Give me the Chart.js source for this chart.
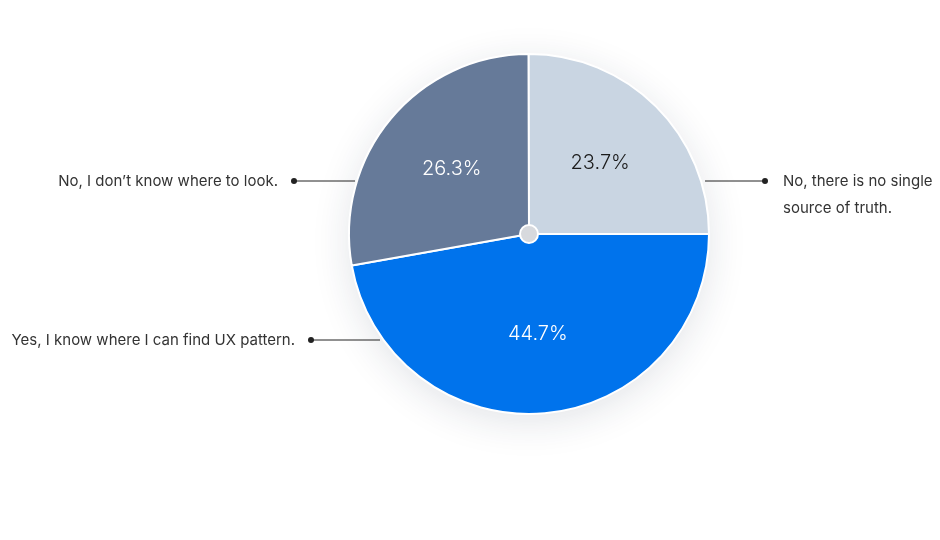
<!DOCTYPE html>
<html>
<head>
<meta charset="utf-8">
<script src="https://cdn.jsdelivr.net/npm/chart.js@4"></script>
<style>
  html, body { margin: 0; padding: 0; background: #fff; }
  #wrap { width: 940px; height: 540px; }
</style>
</head>
<body>
<div id="wrap"><canvas id="pie"></canvas></div>
<script>
const categories = ['Yes, I know where I can find UX pattern.', 'No, I don\u2019t know where to look.', 'No, there is no single source of truth.'];
const values = [44.7, 26.3, 23.7];
const colors = ['#0073EC', '#667A99', '#C9D5E2'];
const valueColors = ['#ffffff', '#ffffff', '#1a1a1a'];

// outer label layout: text lines, anchor side, line y, line start/end x
const outerLabels = [
  { lines: ['Yes, I know where I can find UX pattern.'], side: 'left', y: 340, x1: 380, x2: 311 },
  { lines: ['No, I don\u2019t know where to look.'], side: 'left', y: 181, x1: 355, x2: 294 },
  { lines: ['No, there is no single', 'source of truth.'], side: 'right', y: 181, x1: 705, x2: 765 }
];

const FONT = '"Inter", "Noto Sans", sans-serif';

const decorPlugin = {
  id: 'decor',
  beforeDatasetsDraw(chart) {
    const arc = chart.getDatasetMeta(0).data[0];
    const ctx = chart.ctx;
    ctx.save();
    ctx.shadowColor = 'rgba(30,40,70,0.14)';
    ctx.shadowBlur = 40;
    ctx.shadowOffsetY = 8;
    ctx.fillStyle = '#fff';
    ctx.beginPath();
    ctx.arc(arc.x, arc.y, arc.outerRadius - 2, 0, Math.PI * 2);
    ctx.fill();
    ctx.restore();
  },
  afterDatasetsDraw(chart) {
    const ctx = chart.ctx;
    const meta = chart.getDatasetMeta(0);
    ctx.save();
    // value labels
    ctx.font = '300 20px ' + FONT;
    ctx.textAlign = 'center';
    ctx.textBaseline = 'middle';
    meta.data.forEach((a, i) => {
      const mid = (a.startAngle + a.endAngle) / 2;
      const r = a.outerRadius * 0.56;
      ctx.fillStyle = valueColors[i];
      ctx.fillText(values[i].toFixed(1) + '%', a.x + Math.cos(mid) * r, a.y + Math.sin(mid) * r);
    });
    // center dot
    const a0 = meta.data[0];
    ctx.beginPath();
    ctx.arc(a0.x, a0.y, 9, 0, Math.PI * 2);
    ctx.fillStyle = '#d7d9dd';
    ctx.fill();
    ctx.lineWidth = 2;
    ctx.strokeStyle = '#fff';
    ctx.stroke();
    // outer labels with leader lines
    ctx.font = '15px ' + FONT;
    ctx.textBaseline = 'middle';
    outerLabels.forEach(l => {
      ctx.strokeStyle = '#222';
      ctx.lineWidth = 1;
      ctx.beginPath();
      ctx.moveTo(l.x1, l.y);
      ctx.lineTo(l.x2, l.y);
      ctx.stroke();
      ctx.fillStyle = '#222';
      ctx.beginPath();
      ctx.arc(l.x2, l.y, 3, 0, Math.PI * 2);
      ctx.fill();
      ctx.fillStyle = '#333';
      if (l.side === 'left') {
        ctx.textAlign = 'right';
        l.lines.forEach((t, k) => ctx.fillText(t, l.x2 - 16, l.y + k * 27));
      } else {
        ctx.textAlign = 'left';
        l.lines.forEach((t, k) => ctx.fillText(t, l.x2 + 18, l.y + k * 27));
      }
    });
    ctx.restore();
  }
};

new Chart(document.getElementById('pie'), {
  type: 'pie',
  data: {
    labels: categories,
    datasets: [{
      data: values,
      backgroundColor: colors,
      borderColor: '#ffffff',
      borderWidth: 2,
      hoverOffset: 0
    }]
  },
  options: {
    responsive: true,
    maintainAspectRatio: false,
    animation: false,
    rotation: 90,
    layout: { padding: { left: 118, right: 0, top: 53, bottom: 125 } },
    plugins: {
      legend: { display: false },
      tooltip: { enabled: false }
    }
  },
  plugins: [decorPlugin]
});
</script>
</body>
</html>
